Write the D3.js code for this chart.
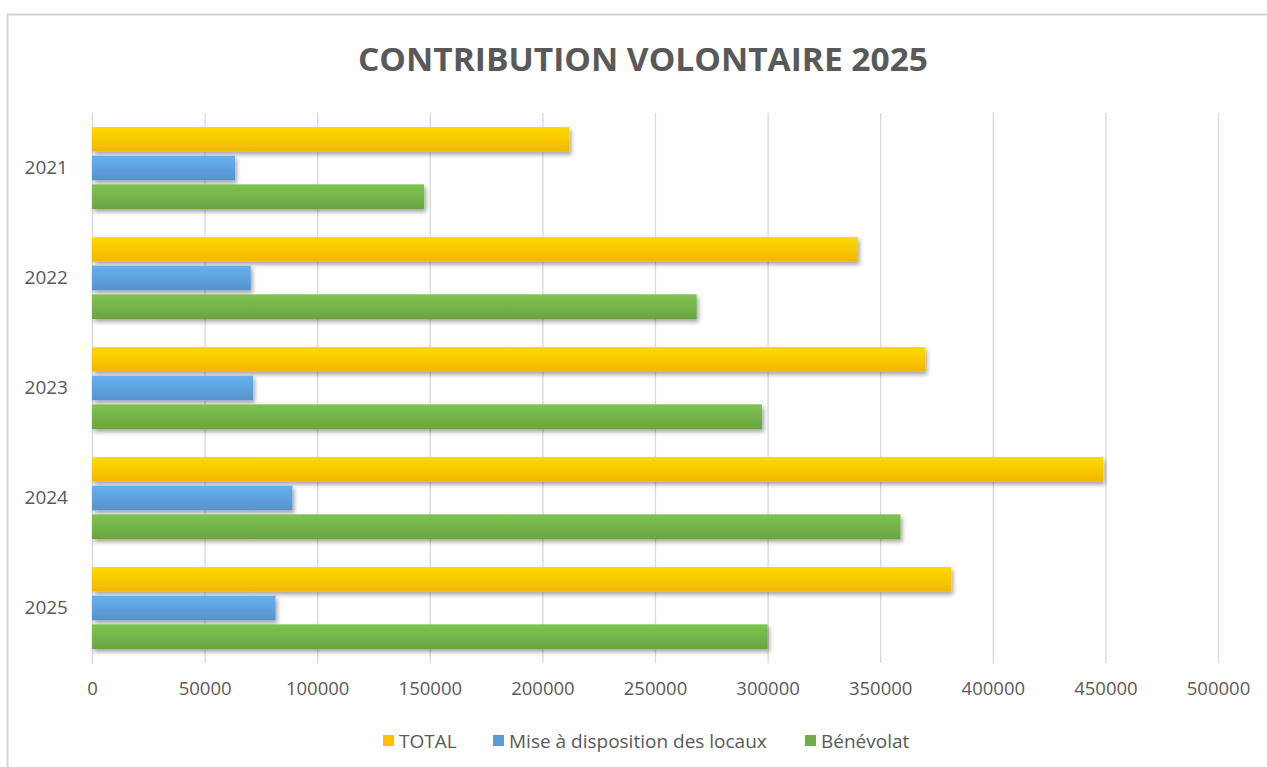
<!DOCTYPE html>
<html>
<head>
<meta charset="utf-8">
<title>Contribution volontaire 2025</title>
<style>
  body { margin: 0; background: #fff; }
  svg text { font-family: "Open Sans", "DejaVu Sans", sans-serif; }
</style>
</head>
<body>
<div id="chart"></div>
<script src="https://cdnjs.cloudflare.com/ajax/libs/d3/7.8.5/d3.min.js"></script>
<script>
// data
var years = ["2021", "2022", "2023", "2024", "2025"];
var seriesNames = ["TOTAL", "Mise à disposition des locaux", "Bénévolat"];
var totalValues = [212000, 340000, 370000, 449000, 381500];
var locauxValues = [63500, 70500, 71500, 89000, 81500];
var benevolatValues = [147500, 268500, 297500, 359000, 300000];
var xTicks = [0, 50000, 100000, 150000, 200000, 250000, 300000, 350000, 400000, 450000, 500000];
var colors = ["#FFC000", "#5B9BD5", "#70AD47"];

var W = 1267, H = 767;
var plot = { left: 92, right: 1218, top: 113, bottom: 663 };

var svg = d3.select("#chart").append("svg")
  .attr("width", W).attr("height", H);

var defs = svg.append("defs");
var shadow = defs.append("filter").attr("id", "shadow")
  .attr("x", "-5%").attr("y", "-30%").attr("width", "115%").attr("height", "180%");
shadow.append("feDropShadow")
  .attr("dx", 2).attr("dy", 3).attr("stdDeviation", 2.2)
  .attr("flood-color", "#000").attr("flood-opacity", 0.35);

colors.forEach(function (c, i) {
  var g = defs.append("linearGradient").attr("id", "grad" + i)
    .attr("x1", 0).attr("y1", 0).attr("x2", 0).attr("y2", 1);
  g.append("stop").attr("offset", "0%").attr("stop-color", d3.color(c).brighter(0.35));
  g.append("stop").attr("offset", "100%").attr("stop-color", d3.color(c).darker(0.15));
});

// chart frame
svg.append("path")
  .attr("d", "M7.5,767 L7.5,14.5 L1267,14.5")
  .attr("fill", "none").attr("stroke", "#d4d4d4").attr("stroke-width", 2);

// title
svg.append("text")
  .attr("x", 643).attr("y", 71)
  .attr("text-anchor", "middle")
  .attr("textLength", 570).attr("lengthAdjust", "spacingAndGlyphs")
  .style("font-size", "33px").style("font-weight", "bold")
  .style("fill", "#595959")
  .text("CONTRIBUTION VOLONTAIRE 2025");

var x = d3.scaleLinear().domain([0, 500000]).range([plot.left, plot.right]);
var y0 = d3.scaleBand().domain(years).range([plot.top, plot.bottom]).paddingInner(0).paddingOuter(0);
var y1 = d3.scaleBand().domain(seriesNames)
  .range([14, y0.bandwidth() - 14]).paddingInner(0.14);

// gridlines
svg.append("g").selectAll("line").data(xTicks).join("line")
  .attr("x1", d => x(d) + 0.5).attr("x2", d => x(d) + 0.5)
  .attr("y1", plot.top).attr("y2", plot.bottom)
  .attr("stroke", "#d9d9d9").attr("stroke-width", 1.3);

// x axis labels
var xAxis = d3.axisBottom(x).tickValues(xTicks).tickSize(0).tickPadding(17)
  .tickFormat(d3.format("d"));
var gx = svg.append("g").attr("transform", "translate(0," + (plot.bottom + 2) + ")").call(xAxis);
gx.select(".domain").remove();
gx.selectAll("text").style("font-size", "18.5px").style("fill", "#595959")
  .style("font-family", "\"Open Sans\", sans-serif");

// y axis labels
var yAxis = d3.axisLeft(y0).tickSize(0).tickPadding(24);
var gy = svg.append("g").attr("transform", "translate(" + plot.left + ",0)").call(yAxis);
gy.select(".domain").remove();
gy.selectAll("text").style("font-size", "19px").style("fill", "#595959")
  .style("font-family", "\"Open Sans\", sans-serif");

// bars
var rows = years.map(function (yr, i) {
  return { year: yr, values: [totalValues[i], locauxValues[i], benevolatValues[i]] };
});

var groups = svg.append("g").selectAll("g").data(rows).join("g")
  .attr("transform", d => "translate(0," + y0(d.year) + ")");

groups.selectAll("rect").data(d => d.values.map((v, j) => ({ name: seriesNames[j], value: v, idx: j })))
  .join("rect")
  .attr("x", x(0))
  .attr("y", d => y1(d.name))
  .attr("width", d => x(d.value) - x(0))
  .attr("height", y1.bandwidth())
  .attr("fill", d => "url(#grad" + d.idx + ")")
  .attr("filter", "url(#shadow)");

// legend
var legendItems = [
  { name: seriesNames[0], x: 383 },
  { name: seriesNames[1], x: 493 },
  { name: seriesNames[2], x: 805 }
];
var lg = svg.append("g").selectAll("g").data(legendItems).join("g")
  .attr("transform", d => "translate(" + d.x + ",735)");
lg.append("rect").attr("width", 11).attr("height", 11)
  .attr("fill", (d, i) => colors[i]);
lg.append("text").attr("x", 16).attr("y", 12.5)
  .style("font-size", "19px").style("fill", "#595959")
  .text(d => d.name);
</script>
</body>
</html>
